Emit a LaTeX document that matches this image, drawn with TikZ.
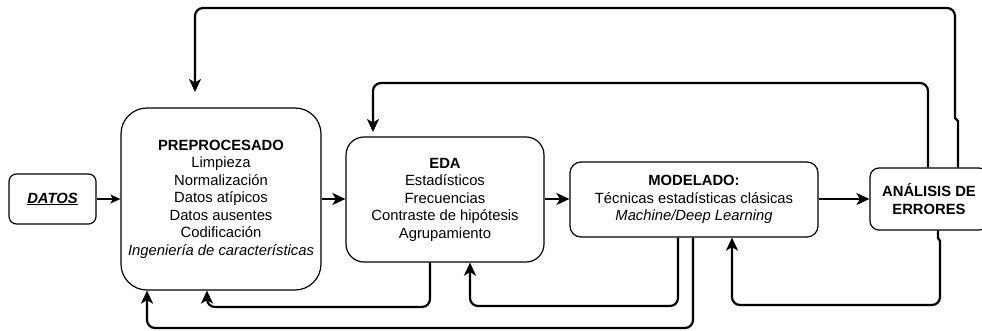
\documentclass[tikz,border=0pt]{standalone}
\usepackage{fontspec}
\setmainfont{Liberation Sans}
\usetikzlibrary{arrows.meta,calc}
\begin{document}
\begin{tikzpicture}[x=1pt,y=-1pt,
  box/.style={draw=black,line width=1.2pt,fill=white,align=center,inner sep=0pt,
    font=\fontsize{14.8}{17.5}\selectfont},
  conn/.style={line width=2.2pt,-{Stealth[length=13pt,width=12pt,inset=3.5pt]}},
  thin/.style={line width=1.3pt,-{Stealth[length=10pt,width=9pt,inset=2.5pt]}}]
\useasboundingbox (0,0) rectangle (982,331);
\clip (0,0) rectangle (982,331);
\node[box,minimum width=87pt,minimum height=50pt,rounded corners=7.5pt] (datos) at (52.5,199) {\textbf{\textit{\underline{DATOS}}}};
\node[box,minimum width=200pt,minimum height=182pt,rounded corners=26pt] (pre) at (221,199)
  {\textbf{PREPROCESADO}\\Limpieza\\Normalización\\Datos atípicos\\Datos ausentes\\Codificación\\\textit{Ingeniería de características}};
\node[box,minimum width=198pt,minimum height=125pt,rounded corners=18pt] (eda) at (445,199.5)
  {\textbf{EDA}\\Estadísticos\\Frecuencias\\Contraste de hipótesis\\Agrupamiento};
\node[box,minimum width=248pt,minimum height=75pt,rounded corners=11pt] (mod) at (694,199.5)
  {\textbf{MODELADO:}\\Técnicas estadísticas clásicas\\\textit{Machine/Deep Learning}};
\node[box,minimum width=118pt,minimum height=62pt,rounded corners=9pt] (err) at (929,199)
  {\textbf{ANÁLISIS DE}\\\textbf{ERRORES}};
\coordinate (t1) at (195,92);
\coordinate (t2) at (373,132);
\draw[thin] (datos.east) -- (pre.west);
\draw[conn] (pre.east) -- (pre.east -| eda.west);
\draw[conn] (eda.east |- 0,199) -- (mod.west |- 0,199);
\draw[conn] (mod.east |- 0,199) -- (err.west |- 0,199);
\draw[conn] ([xshift=29pt]err.north) -- (958,121) -- (955,118) [rounded corners=8pt] -- (955,8) -- (195,8) -- (t1);
\draw[conn,rounded corners=8pt] ([xshift=-1pt]err.north) -- (928,83) -- (373,83) -- (t2);
\draw[conn] ([xshift=9pt]err.south) -- (938,238) -- (940,241) [rounded corners=8pt] -- (940,305) -- (732,305) -- ([xshift=38pt]mod.south);
\draw[conn,rounded corners=8pt] ([xshift=-16pt]mod.south) -- (678,306) -- (470,306) -- ([xshift=25pt]eda.south);
\draw[conn,rounded corners=8pt] ([xshift=-1pt]mod.south) -- (693,328) -- (147,328) -- ([xshift=-74pt]pre.south);
\draw[conn,rounded corners=8pt] ([xshift=-15pt]eda.south) -- (430,307) -- (207,307) -- ([xshift=-14pt]pre.south);
\end{tikzpicture}
\end{document}
